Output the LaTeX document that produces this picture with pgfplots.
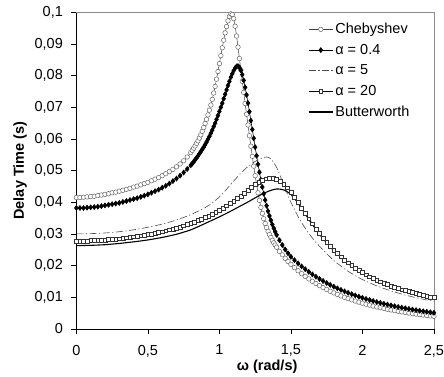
\documentclass[border={10pt 0pt 0pt 3pt}]{standalone}
\usepackage{pgfplots}
\pgfplotsset{compat=1.18}
\usepackage{pgfplotstable}
\usepackage{fontspec}
\setmainfont{Liberation Sans}

\pgfplotstableread{
w t
0.000 0.0415
0.025 0.0415
0.050 0.0416
0.075 0.0417
0.100 0.0418
0.125 0.0419
0.150 0.0421
0.175 0.0423
0.200 0.0425
0.225 0.0427
0.250 0.0430
0.275 0.0432
0.300 0.0435
0.325 0.0438
0.350 0.0441
0.375 0.0444
0.400 0.0448
0.425 0.0451
0.450 0.0455
0.475 0.0459
0.500 0.0463
0.525 0.0468
0.550 0.0473
0.575 0.0478
0.600 0.0484
0.625 0.0490
0.650 0.0497
0.675 0.0504
0.700 0.0512
0.725 0.0521
0.750 0.0531
0.775 0.0543
0.80 0.0557
0.81 0.0564
0.82 0.0571
0.83 0.0578
0.84 0.0586
0.85 0.0594
0.86 0.0603
0.87 0.0613
0.88 0.0624
0.89 0.0636
0.90 0.0649
0.91 0.0662
0.92 0.0676
0.93 0.0691
0.94 0.0707
0.95 0.0725
0.96 0.0745
0.97 0.0766
0.98 0.0789
0.99 0.0813
1.00 0.0838
1.01 0.0863
1.02 0.0888
1.03 0.0912
1.04 0.0935
1.05 0.0955
1.06 0.0973
1.07 0.0987
1.08 0.0995
1.09 0.0993
1.10 0.0980
1.11 0.0956
1.12 0.0925
1.13 0.0890
1.14 0.0854
1.15 0.0818
1.16 0.0782
1.17 0.0747
1.18 0.0712
1.19 0.0678
1.20 0.0644
1.21 0.0610
1.22 0.0577
1.23 0.0545
1.24 0.0514
1.25 0.0484
1.26 0.0456
1.27 0.0430
1.28 0.0406
1.29 0.0384
1.30 0.0365
1.31 0.0348
1.32 0.0333
1.33 0.0320
1.34 0.0308
1.35 0.0298
1.36 0.0289
1.37 0.0280
1.38 0.0272
1.39 0.0265
1.40 0.0258
1.42 0.0245
1.44 0.0234
1.46 0.0223
1.48 0.0213
1.500 0.0204
1.525 0.01935
1.550 0.01837
1.575 0.01745
1.600 0.01659
1.625 0.01579
1.650 0.01504
1.675 0.01433
1.700 0.01367
1.725 0.01304
1.750 0.01246
1.775 0.01190
1.800 0.01138
1.825 0.01089
1.850 0.01043
1.875 0.00999
1.900 0.00957
1.925 0.00918
1.950 0.00881
1.975 0.00846
2.000 0.00813
2.025 0.00781
2.050 0.00751
2.075 0.00722
2.100 0.00695
2.125 0.00669
2.150 0.00645
2.175 0.00621
2.200 0.00599
2.225 0.00578
2.250 0.00557
2.275 0.00538
2.300 0.00520
2.325 0.00502
2.350 0.00485
2.375 0.00469
2.400 0.00453
2.425 0.00439
2.450 0.00424
2.475 0.00411
2.500 0.00398
}\cheb

\pgfplotstableread{
w t
0.000 0.0382
0.025 0.0382
0.050 0.0382
0.075 0.0383
0.100 0.0384
0.125 0.0385
0.150 0.0386
0.175 0.0388
0.200 0.0390
0.225 0.0392
0.250 0.0394
0.275 0.0396
0.300 0.0398
0.325 0.0401
0.350 0.0404
0.375 0.0407
0.400 0.0410
0.425 0.0413
0.450 0.0417
0.475 0.0421
0.500 0.0425
0.525 0.0430
0.550 0.0435
0.575 0.0440
0.600 0.0446
0.625 0.0452
0.650 0.0459
0.675 0.0467
0.700 0.0475
0.725 0.0484
0.750 0.0494
0.775 0.0505
0.80 0.0517
0.81 0.0522
0.82 0.0528
0.83 0.0534
0.84 0.0540
0.85 0.0546
0.86 0.0553
0.87 0.0560
0.88 0.0567
0.89 0.0574
0.90 0.0582
0.91 0.0590
0.92 0.0599
0.93 0.0608
0.94 0.0618
0.95 0.0628
0.96 0.0639
0.97 0.0650
0.98 0.0662
0.99 0.0674
1.00 0.0687
1.01 0.0700
1.02 0.0713
1.03 0.0727
1.04 0.0741
1.05 0.0755
1.06 0.0769
1.07 0.0782
1.08 0.0795
1.09 0.0806
1.10 0.0816
1.11 0.0824
1.12 0.0829
1.13 0.0830
1.14 0.0826
1.15 0.0817
1.16 0.0803
1.17 0.0785
1.18 0.0763
1.19 0.0739
1.20 0.0713
1.21 0.0686
1.22 0.0658
1.23 0.0630
1.24 0.0602
1.25 0.0574
1.26 0.0547
1.27 0.0520
1.28 0.0495
1.29 0.0471
1.30 0.0448
1.31 0.0427
1.32 0.0407
1.33 0.0389
1.34 0.0372
1.35 0.0357
1.36 0.0343
1.37 0.0330
1.38 0.0318
1.39 0.0307
1.40 0.0297
1.42 0.0280
1.44 0.0265
1.46 0.0251
1.48 0.0239
1.500 0.0228
1.525 0.02172
1.550 0.02071
1.575 0.01976
1.600 0.01887
1.625 0.01803
1.650 0.01724
1.675 0.01650
1.700 0.01580
1.725 0.01514
1.750 0.01451
1.775 0.01392
1.800 0.01336
1.825 0.01283
1.850 0.01233
1.875 0.01186
1.900 0.01141
1.925 0.01098
1.950 0.01057
1.975 0.01018
2.000 0.00982
2.025 0.00946
2.050 0.00913
2.075 0.00881
2.100 0.00851
2.125 0.00822
2.150 0.00794
2.175 0.00768
2.200 0.00742
2.225 0.00718
2.250 0.00695
2.275 0.00673
2.300 0.00652
2.325 0.00631
2.350 0.00612
2.375 0.00593
2.400 0.00575
2.425 0.00558
2.450 0.00542
2.475 0.00526
2.500 0.00510
}\alphaA

\pgfplotstableread{
w t
0.00 0.0300
0.10 0.0301
0.20 0.0303
0.30 0.0307
0.40 0.0313
0.50 0.0321
0.60 0.0331
0.70 0.0344
0.80 0.0361
0.90 0.0383
0.95 0.0398
1.00 0.0417
1.05 0.0441
1.10 0.0467
1.15 0.0492
1.20 0.0513
1.25 0.0529
1.30 0.0540
1.33 0.0543
1.36 0.0537
1.40 0.0510
1.45 0.0455
1.50 0.0400
1.55 0.0355
1.60 0.0318
1.65 0.0287
1.70 0.0261
1.80 0.0216
1.90 0.0182
2.00 0.0156
2.10 0.0136
2.20 0.0120
2.30 0.0107
2.40 0.0096
2.50 0.0087
}\alphaB

\pgfplotstableread{
w t
0.000 0.0278
0.025 0.0278
0.050 0.0278
0.075 0.0278
0.100 0.0279
0.125 0.0279
0.150 0.0280
0.175 0.0280
0.200 0.0281
0.225 0.0282
0.250 0.0283
0.275 0.0284
0.300 0.0285
0.325 0.0286
0.350 0.0288
0.375 0.0289
0.400 0.0291
0.425 0.0292
0.450 0.0294
0.475 0.0296
0.500 0.0298
0.525 0.0300
0.550 0.0302
0.575 0.0305
0.600 0.0307
0.625 0.0310
0.650 0.0313
0.675 0.0316
0.700 0.0319
0.725 0.0322
0.750 0.0326
0.775 0.0330
0.800 0.0334
0.825 0.0338
0.850 0.0342
0.875 0.0347
0.900 0.0352
0.925 0.0357
0.950 0.0363
0.975 0.0369
1.000 0.0375
1.025 0.0382
1.050 0.0389
1.075 0.0396
1.100 0.0404
1.125 0.0412
1.150 0.0420
1.175 0.0429
1.200 0.0438
1.225 0.0447
1.250 0.0456
1.275 0.0464
1.300 0.0470
1.325 0.0474
1.350 0.0476
1.375 0.0476
1.400 0.0473
1.425 0.0467
1.450 0.0458
1.475 0.0446
1.500 0.0432
1.525 0.0416
1.550 0.0399
1.575 0.0382
1.600 0.0365
1.625 0.0348
1.650 0.0332
1.675 0.0316
1.700 0.0301
1.725 0.0287
1.750 0.0274
1.775 0.0261
1.800 0.0249
1.825 0.0238
1.850 0.0228
1.875 0.0218
1.900 0.0209
1.925 0.0200
1.950 0.0192
1.975 0.0185
2.000 0.0178
2.025 0.0171
2.050 0.0165
2.075 0.0159
2.100 0.0154
2.125 0.0149
2.150 0.0144
2.175 0.0140
2.200 0.0136
2.225 0.0132
2.250 0.0128
2.275 0.0124
2.300 0.0121
2.325 0.0118
2.350 0.0115
2.375 0.0112
2.400 0.0109
2.425 0.0106
2.450 0.0104
2.475 0.0101
2.500 0.0099
}\alphaC

\pgfplotstableread{
w t
0.00 0.0263
0.10 0.0264
0.20 0.0266
0.30 0.0270
0.40 0.0275
0.50 0.0281
0.60 0.0289
0.70 0.0299
0.80 0.0313
0.90 0.0333
1.00 0.0354
1.05 0.0365
1.10 0.0377
1.15 0.0389
1.20 0.0401
1.25 0.0414
1.30 0.0426
1.35 0.0436
1.40 0.0442
1.45 0.0439
1.50 0.0425
1.55 0.0397
1.60 0.0363
1.65 0.0330
1.70 0.0299
1.75 0.0272
1.80 0.0247
1.90 0.0207
2.00 0.0176
2.10 0.0152
2.20 0.0134
2.30 0.0119
2.40 0.0107
2.50 0.0097
}\butter

\begin{document}
\begin{tikzpicture}
\begin{axis}[
  scale only axis, width=358pt, height=317pt,
  xmin=0, xmax=2.5, ymin=0, ymax=0.1,
  axis x line*=bottom, axis y line*=left,
  xtick={0,0.5,1,1.5,2,2.5},
  ytick={0,0.01,0.02,0.03,0.04,0.05,0.06,0.07,0.08,0.09,0.1},
  tick align=outside, major tick length=5pt,
  axis line style={black, line width=0.6pt},
  tick style={black, line width=0.6pt},
  tick label style={font=\fontsize{14.5}{16}\selectfont},
  x tick label style={yshift=-7.5pt, inner xsep=0pt, /pgf/number format/.cd, use comma, fixed, precision=1, assume math mode=true},
  y tick label style={xshift=-5pt, /pgf/number format/.cd, use comma, fixed, precision=2, assume math mode=true},
  xlabel={\textbf{ω (rad/s)}}, ylabel={\textbf{Delay Time (s)}},
  label style={font=\fontsize{14.5}{16}\selectfont},
  xlabel style={yshift=4pt, xshift=12pt},
  ylabel style={yshift=1pt},
  clip=false,
  legend style={draw=none, fill=none, at={(0.648,0.972)}, anchor=north west,
    font=\fontsize{14.5}{16}\selectfont, row sep=5pt, inner sep=0pt},
  legend cell align=left,
  legend image code/.code={\draw[mark repeat=2,mark phase=2] plot coordinates {(0pt,0pt) (12pt,0pt) (24pt,0pt)};},
]
\addplot[color={rgb,255:red,60;green,60;blue,80}, line width=0.5pt, mark=*, mark size=2.3pt,
  mark options={fill=white, draw=black!60, line width=0.5pt, solid}] table[x=w,y=t] {\cheb};
\addlegendentry{Chebyshev}
\addplot[black, line width=0.6pt, mark=diamond*, mark size=2.5pt, mark options={solid}] table[x=w,y=t] {\alphaA};
\addlegendentry{α = 0.4}
\addplot[black!70, line width=0.6pt, dash pattern=on 7pt off 2.5pt on 1.2pt off 2.5pt, smooth, tension=0.4] table[x=w,y=t] {\alphaB};
\addlegendentry{α = 5}
\addplot[black, line width=0.6pt, mark=square*, mark size=1.9pt,
  mark options={fill=white, draw=black!80, line width=0.5pt, solid}] table[x=w,y=t] {\alphaC};
\addlegendentry{α = 20}
\addplot[black, line width=1.1pt, smooth, tension=0.4] table[x=w,y=t] {\butter};
\addlegendentry{Butterworth}
\draw[black!45, line width=0.6pt] (rel axis cs:0,1) -- (rel axis cs:1,1) -- (rel axis cs:1,0);
\end{axis}
\end{tikzpicture}
\end{document}
